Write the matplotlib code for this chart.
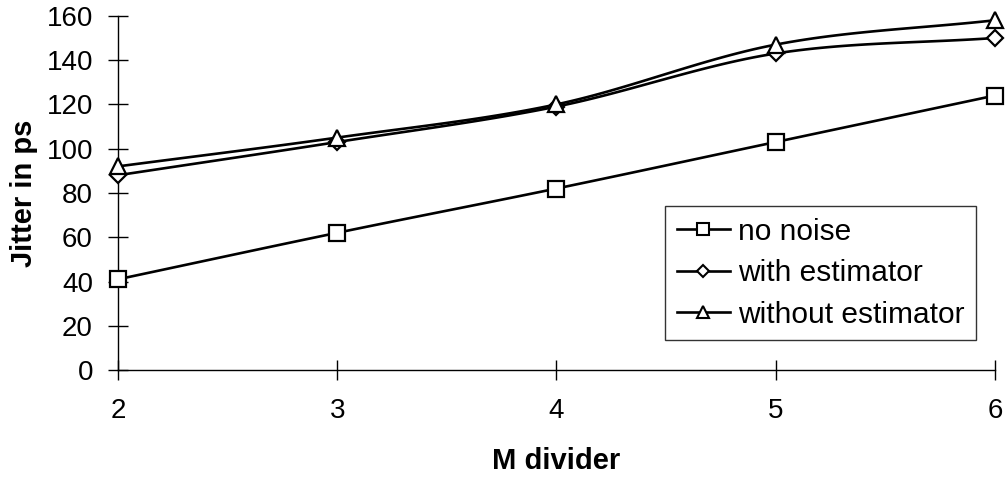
import numpy as np
import matplotlib
matplotlib.use("Agg")
import matplotlib.pyplot as plt

m_divider = [2, 3, 4, 5, 6]
no_noise = [41, 62, 82, 103, 124]
with_estimator = [88, 103, 119, 143, 150]
without_estimator = [92, 105, 120, 147, 158]

plt.rcParams.update({
    "font.family": "Liberation Sans",
    "font.size": 20,
})


def smooth(x, y, n=30):
    # Catmull-Rom curve through the points, like spreadsheet "smoothed lines"
    x = np.asarray(x, float)
    y = np.asarray(y, float)
    px = np.concatenate([[2 * x[0] - x[1]], x, [2 * x[-1] - x[-2]]])
    py = np.concatenate([[2 * y[0] - y[1]], y, [2 * y[-1] - y[-2]]])
    xs, ys = [], []
    t = np.linspace(0, 1, n)
    for i in range(1, len(px) - 2):
        for p, out in ((px, xs), (py, ys)):
            p0, p1, p2, p3 = p[i - 1], p[i], p[i + 1], p[i + 2]
            out.extend(0.5 * (2 * p1 + (-p0 + p2) * t
                              + (2 * p0 - 5 * p1 + 4 * p2 - p3) * t ** 2
                              + (-p0 + 3 * p1 - 3 * p2 + p3) * t ** 3))
    return xs, ys


fig = plt.figure(figsize=(10.08, 4.8), dpi=100)
ax = fig.add_axes([0.117, 0.229, 0.870, 0.738])

series = [
    (no_noise, "s", 11, 9, "no noise"),
    (with_estimator, "D", 8, 6.5, "with estimator"),
    (without_estimator, "^", 11, 9, "without estimator"),
]
handles = []
for vals, mk, ms, ms_leg, lab in series:
    sx, sy = smooth(m_divider, vals)
    ax.plot(sx, sy, color="black", lw=1.9, zorder=2, clip_on=False)
    ax.plot(m_divider, vals, ls="none", marker=mk, ms=ms, mfc="white",
            mec="black", mew=1.6, zorder=3, clip_on=False)
    h, = ax.plot([], [], color="black", lw=1.9, marker=mk, ms=ms_leg,
                 mfc="white", mec="black", mew=1.5, label=lab)
    handles.append(h)

ax.set_xlim(2, 6)
ax.set_ylim(0, 160)
ax.set_xticks(m_divider)
ax.set_yticks(np.arange(0, 161, 20))
ax.spines["top"].set_visible(False)
ax.spines["right"].set_visible(False)
ax.spines["left"].set_linewidth(1.0)
ax.spines["bottom"].set_linewidth(1.0)
ax.tick_params(axis="y", direction="inout", length=14, width=1.0, pad=11,
               labelsize=20)
ax.tick_params(axis="x", direction="inout", length=14, width=1.0, pad=13,
               labelsize=20)

ax.set_xlabel("M divider", fontweight="bold", fontsize=21, labelpad=17)
ax.set_ylabel("Jitter in ps", fontweight="bold", fontsize=21, labelpad=6)

leg = ax.legend(handles=handles, loc="lower right",
                bbox_to_anchor=(0.978, 0.085), frameon=True, fancybox=False,
                edgecolor="black", fontsize=21.5, handlelength=1.8,
                handletextpad=0.25, borderpad=0.38, labelspacing=0.45,
                borderaxespad=0)
leg.get_frame().set_linewidth(1.0)

fig.savefig("out.png", dpi=100)
